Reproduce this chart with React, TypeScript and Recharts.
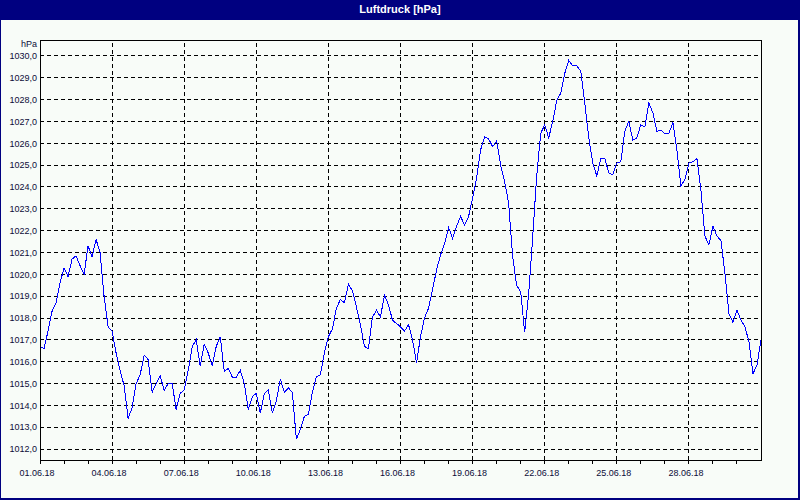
import React from "react";
import {
  LineChart,
  Line,
  XAxis,
  YAxis,
  CartesianGrid,
  ReferenceLine,
  ReferenceArea,
} from "recharts";

const TITLE = "Luftdruck [hPa]";
const UNIT = "hPa";
const STEP_HOURS = 4;

// Luftdruck in hPa, ein Wert alle 4 Stunden
const pressureJun01to10 = [
  1016.7, 1016.6, 1017.4, 1018.3, 1018.7, 1019.6,
  1020.3, 1019.9, 1020.7, 1020.85, 1020.4, 1020.0,
  1021.3, 1020.8, 1021.6, 1021.0, 1019.0, 1017.6,
  1017.4, 1016.4, 1015.6, 1014.9, 1013.4, 1013.9,
  1015.0, 1015.4, 1016.3, 1016.1, 1014.6, 1015.0,
  1015.35, 1014.7, 1015.0, 1015.0, 1013.8, 1014.55,
  1014.7, 1015.6, 1016.7, 1017.0, 1015.8, 1016.8,
  1016.4, 1015.8, 1016.7, 1017.15, 1015.55, 1015.7,
  1015.3, 1015.3, 1015.6, 1015.0, 1013.8, 1014.4,
  1014.55, 1013.65, 1014.55, 1014.7, 1013.65, 1014.2,
];

const pressureJun11to20 = [
  1015.2, 1014.6, 1014.8, 1014.6, 1012.45, 1012.9,
  1013.5, 1013.6, 1014.6, 1015.3, 1015.4, 1016.4,
  1017.15, 1017.5, 1018.45, 1018.85, 1018.7, 1019.55,
  1019.25, 1018.5, 1017.7, 1016.7, 1016.6, 1018.05,
  1018.35, 1018.05, 1019.05, 1018.6, 1017.9, 1017.75,
  1017.6, 1017.4, 1017.7, 1017.0, 1015.95, 1017.15,
  1018.0, 1018.45, 1019.3, 1020.2, 1020.9, 1021.4,
  1022.15, 1021.65, 1022.2, 1022.65, 1022.25, 1022.65,
  1023.5, 1024.4, 1025.7, 1026.3, 1026.2, 1025.85,
  1026.1, 1025.0, 1024.25, 1023.25, 1020.8, 1019.5,
];

const pressureJun21to30 = [
  1019.2, 1017.35, 1019.1, 1021.7, 1024.5, 1026.45,
  1026.85, 1026.25, 1027.0, 1027.95, 1028.3, 1029.2,
  1029.8, 1029.55, 1029.55, 1029.3, 1027.85, 1026.25,
  1025.1, 1024.5, 1025.3, 1025.3, 1024.65, 1024.55,
  1025.1, 1025.15, 1026.55, 1027.0, 1026.15, 1026.25,
  1026.85, 1026.75, 1027.85, 1027.4, 1026.55, 1026.6,
  1026.45, 1026.45, 1026.95, 1025.7, 1024.05, 1024.35,
  1025.1, 1025.15, 1025.3, 1023.85, 1021.75, 1021.35,
  1022.2, 1021.75, 1021.55, 1020.05, 1018.2, 1017.8,
  1018.35, 1017.9, 1017.6, 1016.9, 1015.45, 1015.85,
  1017.0,
];

const dateLabels = [
  "01.06.18",
  "04.06.18",
  "07.06.18",
  "10.06.18",
  "13.06.18",
  "16.06.18",
  "19.06.18",
  "22.06.18",
  "25.06.18",
  "28.06.18",
];

const pressureTicks = [
  1012, 1013, 1014, 1015, 1016, 1017, 1018, 1019, 1020, 1021,
  1022, 1023, 1024, 1025, 1026, 1027, 1028, 1029, 1030,
];

const Y_MIN = 1011.5;
const Y_MAX = 1030.73;
const X_MAX = 720;

const data = [...pressureJun01to10, ...pressureJun11to20, ...pressureJun21to30].map(
  (p, i) => ({ h: i * STEP_HOURS, p })
);

// Tagesstriche an der x-Achse, Gitter alle 3 Tage
const dayTicks = Array.from({ length: 30 }, (_, d) => d * 24);
const gridHours = dateLabels.slice(1).map((_, i) => (i + 1) * 72);

const textColor = "#0c0c38";
const tickStyle = { fontSize: 9, fontFamily: "Liberation Sans, Arial, sans-serif", fill: textColor };

function formatDate(h: number) {
  if (h % 72 !== 0) return "";
  return dateLabels[h / 72] ?? "";
}

function formatPressure(v: number) {
  return v.toFixed(1).replace(".", ",");
}

function UnitLabel({ viewBox }: any) {
  if (!viewBox) return null;
  return (
    <text
      x={viewBox.x + viewBox.width - 3}
      y={viewBox.y + 7}
      textAnchor="end"
      style={tickStyle}
    >
      {UNIT}
    </text>
  );
}

export default function App() {
  return (
    <div
      style={{
        position: "fixed",
        left: 0,
        top: 0,
        width: 800,
        height: 500,
        background: "#000080",
        shapeRendering: "crispEdges",
      }}
    >
      <div
        style={{
          position: "absolute",
          left: 1,
          top: 20,
          width: 797,
          height: 478,
          background: "#f8fcf8",
        }}
      />
      <div
        style={{
          position: "absolute",
          left: 0,
          top: 0,
          width: 800,
          height: 20,
          lineHeight: "19px",
          textAlign: "center",
          color: "#ffffff",
          fontFamily: "Liberation Sans, Arial, sans-serif",
          fontWeight: "bold",
          fontSize: 11,
        }}
      >
        {TITLE}
      </div>
      <div style={{ position: "absolute", left: 0, top: 0 }}>
        <LineChart
          width={800}
          height={500}
          data={data}
          margin={{ top: 40, right: 39, bottom: 0, left: 0 }}
        >
          <CartesianGrid vertical={false} stroke="#000" strokeDasharray="4 3" />
          {gridHours.map((h) => (
            <ReferenceLine key={h} x={h} stroke="#000" strokeDasharray="4 3" />
          ))}
          <XAxis
            dataKey="h"
            type="number"
            domain={[0, X_MAX]}
            ticks={dayTicks}
            interval={0}
            tickFormatter={formatDate}
            tick={{ ...tickStyle, dx: -3 }}
            tickSize={4}
            tickMargin={6}
            height={40}
            axisLine={{ stroke: "#000" }}
            tickLine={{ stroke: "#000" }}
            allowDataOverflow
          />
          <YAxis
            type="number"
            domain={[Y_MIN, Y_MAX]}
            ticks={pressureTicks}
            interval={0}
            tickFormatter={formatPressure}
            tick={tickStyle}
            tickLine={false}
            tickSize={0}
            tickMargin={3}
            width={40}
            axisLine={{ stroke: "#000" }}
            allowDataOverflow
            label={{ content: UnitLabel }}
          />
          <ReferenceArea
            x1={0}
            x2={X_MAX}
            y1={Y_MIN}
            y2={Y_MAX}
            fill="none"
            stroke="#000"
            strokeWidth={1}
          />
          <Line
            type="linear"
            dataKey="p"
            stroke="#0000ff"
            strokeWidth={1}
            dot={false}
            isAnimationActive={false}
          />
        </LineChart>
      </div>
    </div>
  );
}
